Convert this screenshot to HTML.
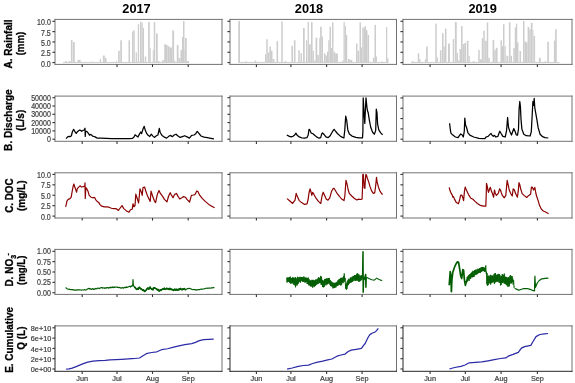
<!DOCTYPE html>
<html><head><meta charset="utf-8"><style>
html,body{margin:0;padding:0;background:#fff;overflow:hidden;}
svg{display:block;will-change:transform;}
text{font-family:"Liberation Sans",sans-serif;}
.tl{font-size:8.6px;fill:#404040;stroke:#404040;stroke-width:0.22px;}
.ti{font-size:13.6px;font-weight:bold;fill:#000;}
.yt{font-size:11.2px;font-weight:bold;fill:#000;stroke:#000;stroke-width:0.3px;}
</style></head><body>
<svg width="575" height="383" viewBox="0 0 575 383">
<line x1="63.1" y1="62.4" x2="189" y2="62.4" stroke="#cdcdcd" stroke-width="1.0"/>
<line x1="238.25" y1="62.4" x2="388.5" y2="62.4" stroke="#cdcdcd" stroke-width="1.0"/>
<line x1="411" y1="62.4" x2="559.5" y2="62.4" stroke="#cdcdcd" stroke-width="1.0"/>
<rect x="65.00" y="61.30" width="2.00" height="1.30" fill="#cdcdcd"/>
<rect x="68.70" y="61.00" width="1.30" height="1.60" fill="#cdcdcd"/>
<rect x="70.90" y="40.10" width="1.60" height="22.50" fill="#cdcdcd"/>
<rect x="72.90" y="42.00" width="1.85" height="20.60" fill="#cdcdcd"/>
<rect x="77.50" y="59.90" width="3.10" height="2.70" fill="#cdcdcd"/>
<rect x="91.90" y="61.20" width="0.60" height="1.40" fill="#cdcdcd"/>
<rect x="99.75" y="59.00" width="1.25" height="3.60" fill="#cdcdcd"/>
<rect x="102.90" y="55.50" width="1.85" height="7.10" fill="#cdcdcd"/>
<rect x="104.75" y="57.75" width="1.75" height="4.85" fill="#cdcdcd"/>
<rect x="116.00" y="60.75" width="0.90" height="1.85" fill="#cdcdcd"/>
<rect x="118.10" y="50.75" width="1.65" height="11.85" fill="#cdcdcd"/>
<rect x="120.25" y="40.25" width="1.65" height="22.35" fill="#cdcdcd"/>
<rect x="128.50" y="40.25" width="1.50" height="22.35" fill="#cdcdcd"/>
<rect x="132.00" y="31.50" width="1.50" height="31.10" fill="#cdcdcd"/>
<rect x="133.50" y="30.10" width="1.25" height="32.50" fill="#cdcdcd"/>
<rect x="135.60" y="52.40" width="1.30" height="10.20" fill="#cdcdcd"/>
<rect x="137.75" y="24.25" width="1.35" height="38.35" fill="#cdcdcd"/>
<rect x="140.00" y="21.75" width="1.50" height="40.85" fill="#cdcdcd"/>
<rect x="141.50" y="22.40" width="1.25" height="40.20" fill="#cdcdcd"/>
<rect x="142.75" y="28.00" width="1.25" height="34.60" fill="#cdcdcd"/>
<rect x="144.75" y="56.50" width="1.50" height="6.10" fill="#cdcdcd"/>
<rect x="148.10" y="22.10" width="1.65" height="40.50" fill="#cdcdcd"/>
<rect x="149.75" y="47.75" width="1.00" height="14.85" fill="#cdcdcd"/>
<rect x="152.75" y="49.90" width="1.00" height="12.70" fill="#cdcdcd"/>
<rect x="153.75" y="22.10" width="1.50" height="40.50" fill="#cdcdcd"/>
<rect x="156.00" y="33.40" width="1.75" height="29.20" fill="#cdcdcd"/>
<rect x="158.10" y="61.00" width="1.30" height="1.60" fill="#cdcdcd"/>
<rect x="162.25" y="59.90" width="1.50" height="2.70" fill="#cdcdcd"/>
<rect x="164.25" y="44.25" width="1.75" height="18.35" fill="#cdcdcd"/>
<rect x="166.00" y="44.90" width="1.60" height="17.70" fill="#cdcdcd"/>
<rect x="167.60" y="46.10" width="1.65" height="16.50" fill="#cdcdcd"/>
<rect x="169.25" y="47.40" width="2.75" height="15.20" fill="#cdcdcd"/>
<rect x="172.25" y="30.50" width="1.85" height="32.10" fill="#cdcdcd"/>
<rect x="174.10" y="60.50" width="1.00" height="2.10" fill="#cdcdcd"/>
<rect x="176.75" y="44.90" width="1.75" height="17.70" fill="#cdcdcd"/>
<rect x="178.50" y="58.00" width="2.00" height="4.60" fill="#cdcdcd"/>
<rect x="180.50" y="49.90" width="1.50" height="12.70" fill="#cdcdcd"/>
<rect x="182.00" y="37.00" width="1.00" height="25.60" fill="#cdcdcd"/>
<rect x="183.00" y="21.10" width="1.50" height="41.50" fill="#cdcdcd"/>
<rect x="184.50" y="49.25" width="1.00" height="13.35" fill="#cdcdcd"/>
<rect x="185.00" y="38.00" width="1.75" height="24.60" fill="#cdcdcd"/>
<rect x="186.75" y="61.00" width="2.25" height="1.60" fill="#cdcdcd"/>
<rect x="238.25" y="21.10" width="1.75" height="41.50" fill="#cdcdcd"/>
<rect x="245.60" y="61.20" width="1.30" height="1.40" fill="#cdcdcd"/>
<rect x="254.75" y="60.50" width="1.50" height="2.10" fill="#cdcdcd"/>
<rect x="265.00" y="54.25" width="1.25" height="8.35" fill="#cdcdcd"/>
<rect x="266.25" y="39.25" width="1.50" height="23.35" fill="#cdcdcd"/>
<rect x="267.75" y="52.40" width="1.65" height="10.20" fill="#cdcdcd"/>
<rect x="269.40" y="46.50" width="1.60" height="16.10" fill="#cdcdcd"/>
<rect x="271.00" y="50.75" width="1.50" height="11.85" fill="#cdcdcd"/>
<rect x="272.50" y="59.00" width="1.90" height="3.60" fill="#cdcdcd"/>
<rect x="276.50" y="41.10" width="1.60" height="21.50" fill="#cdcdcd"/>
<rect x="281.25" y="21.50" width="1.50" height="41.10" fill="#cdcdcd"/>
<rect x="284.75" y="61.00" width="1.25" height="1.60" fill="#cdcdcd"/>
<rect x="291.40" y="45.75" width="1.60" height="16.85" fill="#cdcdcd"/>
<rect x="293.90" y="40.25" width="1.60" height="22.35" fill="#cdcdcd"/>
<rect x="298.25" y="50.25" width="1.50" height="12.35" fill="#cdcdcd"/>
<rect x="300.50" y="53.25" width="1.50" height="9.35" fill="#cdcdcd"/>
<rect x="303.00" y="28.00" width="1.75" height="34.60" fill="#cdcdcd"/>
<rect x="306.00" y="40.25" width="1.25" height="22.35" fill="#cdcdcd"/>
<rect x="307.60" y="21.75" width="1.30" height="40.85" fill="#cdcdcd"/>
<rect x="308.90" y="44.25" width="1.85" height="18.35" fill="#cdcdcd"/>
<rect x="311.00" y="22.10" width="1.60" height="40.50" fill="#cdcdcd"/>
<rect x="312.60" y="50.75" width="1.30" height="11.85" fill="#cdcdcd"/>
<rect x="314.25" y="60.50" width="1.25" height="2.10" fill="#cdcdcd"/>
<rect x="315.50" y="37.75" width="1.75" height="24.85" fill="#cdcdcd"/>
<rect x="317.25" y="54.90" width="1.65" height="7.70" fill="#cdcdcd"/>
<rect x="319.25" y="37.75" width="1.50" height="24.85" fill="#cdcdcd"/>
<rect x="320.10" y="26.75" width="1.65" height="35.85" fill="#cdcdcd"/>
<rect x="321.75" y="36.50" width="1.25" height="26.10" fill="#cdcdcd"/>
<rect x="323.90" y="53.40" width="1.60" height="9.20" fill="#cdcdcd"/>
<rect x="325.50" y="55.50" width="1.50" height="7.10" fill="#cdcdcd"/>
<rect x="327.00" y="51.75" width="1.50" height="10.85" fill="#cdcdcd"/>
<rect x="328.25" y="40.25" width="1.25" height="22.35" fill="#cdcdcd"/>
<rect x="329.50" y="26.75" width="1.50" height="35.85" fill="#cdcdcd"/>
<rect x="331.00" y="48.00" width="1.00" height="14.60" fill="#cdcdcd"/>
<rect x="332.00" y="22.40" width="1.50" height="40.20" fill="#cdcdcd"/>
<rect x="333.50" y="51.75" width="1.60" height="10.85" fill="#cdcdcd"/>
<rect x="335.10" y="53.40" width="1.90" height="9.20" fill="#cdcdcd"/>
<rect x="337.00" y="53.60" width="0.90" height="9.00" fill="#cdcdcd"/>
<rect x="342.25" y="60.50" width="1.25" height="2.10" fill="#cdcdcd"/>
<rect x="343.50" y="21.75" width="1.25" height="40.85" fill="#cdcdcd"/>
<rect x="344.75" y="26.10" width="1.25" height="36.50" fill="#cdcdcd"/>
<rect x="346.00" y="34.90" width="1.25" height="27.70" fill="#cdcdcd"/>
<rect x="347.90" y="59.00" width="1.85" height="3.60" fill="#cdcdcd"/>
<rect x="349.75" y="59.90" width="2.50" height="2.70" fill="#cdcdcd"/>
<rect x="356.00" y="43.60" width="1.50" height="19.00" fill="#cdcdcd"/>
<rect x="357.50" y="50.75" width="1.60" height="11.85" fill="#cdcdcd"/>
<rect x="359.50" y="22.40" width="1.50" height="40.20" fill="#cdcdcd"/>
<rect x="361.00" y="47.40" width="1.25" height="15.20" fill="#cdcdcd"/>
<rect x="362.25" y="27.40" width="1.50" height="35.20" fill="#cdcdcd"/>
<rect x="363.75" y="28.25" width="1.25" height="34.35" fill="#cdcdcd"/>
<rect x="364.50" y="26.10" width="1.50" height="36.50" fill="#cdcdcd"/>
<rect x="366.00" y="30.25" width="1.50" height="32.35" fill="#cdcdcd"/>
<rect x="367.50" y="34.90" width="1.60" height="27.70" fill="#cdcdcd"/>
<rect x="372.90" y="57.75" width="1.60" height="4.85" fill="#cdcdcd"/>
<rect x="374.50" y="24.90" width="1.50" height="37.70" fill="#cdcdcd"/>
<rect x="376.00" y="56.50" width="1.00" height="6.10" fill="#cdcdcd"/>
<rect x="381.60" y="61.20" width="1.30" height="1.40" fill="#cdcdcd"/>
<rect x="386.00" y="27.00" width="1.25" height="35.60" fill="#cdcdcd"/>
<rect x="387.25" y="58.25" width="1.25" height="4.35" fill="#cdcdcd"/>
<rect x="411.75" y="61.30" width="1.85" height="1.30" fill="#cdcdcd"/>
<rect x="417.75" y="53.25" width="1.50" height="9.35" fill="#cdcdcd"/>
<rect x="419.25" y="59.25" width="1.25" height="3.35" fill="#cdcdcd"/>
<rect x="424.90" y="59.25" width="1.20" height="3.35" fill="#cdcdcd"/>
<rect x="426.10" y="46.50" width="1.65" height="16.10" fill="#cdcdcd"/>
<rect x="435.25" y="23.60" width="1.50" height="39.00" fill="#cdcdcd"/>
<rect x="436.75" y="57.40" width="1.25" height="5.20" fill="#cdcdcd"/>
<rect x="439.90" y="50.25" width="1.60" height="12.35" fill="#cdcdcd"/>
<rect x="442.00" y="33.25" width="1.60" height="29.35" fill="#cdcdcd"/>
<rect x="443.60" y="46.75" width="1.30" height="15.85" fill="#cdcdcd"/>
<rect x="444.90" y="28.60" width="1.60" height="34.00" fill="#cdcdcd"/>
<rect x="448.00" y="43.60" width="1.90" height="19.00" fill="#cdcdcd"/>
<rect x="452.75" y="39.00" width="1.50" height="23.60" fill="#cdcdcd"/>
<rect x="454.90" y="22.00" width="1.85" height="40.60" fill="#cdcdcd"/>
<rect x="456.75" y="53.00" width="1.25" height="9.60" fill="#cdcdcd"/>
<rect x="458.00" y="60.50" width="1.50" height="2.10" fill="#cdcdcd"/>
<rect x="459.50" y="49.00" width="1.50" height="13.60" fill="#cdcdcd"/>
<rect x="461.00" y="26.10" width="1.60" height="36.50" fill="#cdcdcd"/>
<rect x="462.60" y="44.00" width="1.65" height="18.60" fill="#cdcdcd"/>
<rect x="464.25" y="43.00" width="1.75" height="19.60" fill="#cdcdcd"/>
<rect x="466.75" y="40.90" width="1.75" height="21.70" fill="#cdcdcd"/>
<rect x="468.50" y="55.75" width="1.25" height="6.85" fill="#cdcdcd"/>
<rect x="472.60" y="61.20" width="1.90" height="1.40" fill="#cdcdcd"/>
<rect x="478.25" y="49.90" width="1.50" height="12.70" fill="#cdcdcd"/>
<rect x="479.75" y="59.25" width="2.00" height="3.35" fill="#cdcdcd"/>
<rect x="481.75" y="38.25" width="1.50" height="24.35" fill="#cdcdcd"/>
<rect x="483.25" y="30.75" width="1.50" height="31.85" fill="#cdcdcd"/>
<rect x="485.10" y="40.75" width="1.65" height="21.85" fill="#cdcdcd"/>
<rect x="486.75" y="22.40" width="1.50" height="40.20" fill="#cdcdcd"/>
<rect x="488.25" y="57.75" width="1.50" height="4.85" fill="#cdcdcd"/>
<rect x="492.60" y="39.90" width="1.65" height="22.70" fill="#cdcdcd"/>
<rect x="494.25" y="49.90" width="1.50" height="12.70" fill="#cdcdcd"/>
<rect x="495.75" y="47.75" width="1.85" height="14.85" fill="#cdcdcd"/>
<rect x="500.50" y="40.25" width="1.50" height="22.35" fill="#cdcdcd"/>
<rect x="502.00" y="46.10" width="1.25" height="16.50" fill="#cdcdcd"/>
<rect x="503.00" y="24.25" width="1.50" height="38.35" fill="#cdcdcd"/>
<rect x="504.50" y="46.10" width="1.25" height="16.50" fill="#cdcdcd"/>
<rect x="506.40" y="55.75" width="1.85" height="6.85" fill="#cdcdcd"/>
<rect x="508.90" y="22.40" width="1.60" height="40.20" fill="#cdcdcd"/>
<rect x="510.50" y="55.75" width="1.50" height="6.85" fill="#cdcdcd"/>
<rect x="513.25" y="48.00" width="1.50" height="14.60" fill="#cdcdcd"/>
<rect x="514.75" y="27.40" width="1.25" height="35.20" fill="#cdcdcd"/>
<rect x="516.00" y="23.60" width="1.25" height="39.00" fill="#cdcdcd"/>
<rect x="517.00" y="42.40" width="1.50" height="20.20" fill="#cdcdcd"/>
<rect x="519.50" y="51.10" width="1.50" height="11.50" fill="#cdcdcd"/>
<rect x="523.00" y="21.10" width="1.50" height="41.50" fill="#cdcdcd"/>
<rect x="524.50" y="41.50" width="1.50" height="21.10" fill="#cdcdcd"/>
<rect x="526.00" y="42.40" width="1.60" height="20.20" fill="#cdcdcd"/>
<rect x="527.60" y="27.00" width="1.65" height="35.60" fill="#cdcdcd"/>
<rect x="529.25" y="29.25" width="1.50" height="33.35" fill="#cdcdcd"/>
<rect x="530.75" y="22.75" width="1.85" height="39.85" fill="#cdcdcd"/>
<rect x="532.60" y="30.00" width="0.90" height="32.60" fill="#cdcdcd"/>
<rect x="533.50" y="36.10" width="1.60" height="26.50" fill="#cdcdcd"/>
<rect x="538.90" y="57.75" width="1.85" height="4.85" fill="#cdcdcd"/>
<rect x="544.75" y="61.20" width="1.25" height="1.40" fill="#cdcdcd"/>
<rect x="547.25" y="41.75" width="1.65" height="20.85" fill="#cdcdcd"/>
<rect x="553.90" y="40.50" width="1.60" height="22.10" fill="#cdcdcd"/>
<rect x="555.10" y="29.25" width="1.65" height="33.35" fill="#cdcdcd"/>
<polyline points="66.10,138.60 67.60,136.90 68.90,136.40 70.10,136.70 71.40,135.75 72.30,132.00 73.60,129.40 74.50,130.75 75.40,132.60 76.40,133.40 77.30,131.70 78.60,130.75 79.80,130.00 80.75,130.60 81.70,131.25 82.90,130.40 84.20,130.00 85.00,128.25 85.25,136.40 85.60,131.40 86.70,131.40 87.60,132.30 88.60,133.60 89.50,135.10 90.75,134.50 91.70,135.10 92.60,136.10 93.90,136.50 95.10,136.90 96.70,137.90 97.90,138.10 100.65,138.20 106.30,138.40 112.00,138.70 117.60,138.70 123.30,138.50 128.90,138.70 132.30,138.50 134.00,137.00 135.10,134.80 136.60,135.90 138.00,137.00 139.65,133.65 140.80,132.00 141.60,133.65 143.00,129.10 144.20,126.30 145.30,130.30 146.80,133.65 148.10,135.35 149.80,136.50 151.30,134.20 152.65,135.90 154.35,137.40 156.40,135.70 157.90,135.00 158.50,132.50 159.30,128.40 160.20,132.50 162.00,135.40 164.30,137.10 166.65,138.10 168.40,136.60 170.15,135.40 172.50,136.60 174.20,135.00 176.00,134.20 177.70,135.75 180.10,137.40 182.40,136.60 184.70,135.75 187.05,136.90 189.40,138.10 191.70,135.40 194.00,135.00 195.80,133.65 197.20,131.30 198.70,133.10 201.00,136.00 204.00,137.10 207.40,137.70 210.90,138.30 213.90,138.90" fill="none" stroke="#000" stroke-width="1.25" stroke-linejoin="round"/>
<polyline points="286.80,135.05 288.90,136.10 291.00,136.90 293.00,136.30 294.60,135.05 295.90,133.20 297.20,135.30 299.30,136.90 301.90,138.00 304.50,138.20 306.90,137.70 308.20,135.05 309.00,129.30 309.75,129.80 310.50,131.40 311.30,133.20 312.60,133.50 314.40,135.05 316.50,136.90 319.10,138.20 320.70,137.70 321.75,133.80 322.60,133.00 323.80,134.20 325.90,136.90 328.00,137.70 329.90,136.10 331.70,133.00 333.20,130.40 334.10,129.30 335.30,130.90 337.40,133.50 340.90,136.60 343.90,138.00 344.80,129.90 345.70,116.15 346.75,120.70 347.80,129.90 349.40,134.00 352.00,136.10 355.90,137.40 358.80,137.90 362.50,137.90 362.90,131.60 363.20,97.90 364.00,112.00 364.80,123.40 365.30,112.00 366.00,97.90 366.90,107.00 367.50,110.80 368.20,112.80 369.40,120.30 370.70,127.25 372.60,132.30 374.40,134.20 375.70,130.40 376.30,109.10 377.00,112.80 377.60,124.10 378.80,129.80 380.70,132.90 382.60,134.80" fill="none" stroke="#000" stroke-width="1.25" stroke-linejoin="round"/>
<polyline points="449.60,123.30 450.20,128.55 450.90,133.10 452.80,135.10 455.40,137.00 458.05,137.70 459.40,135.70 460.70,134.00 462.00,134.80 463.30,137.00 464.30,131.20 464.80,118.10 465.60,125.30 466.50,127.25 467.85,132.50 469.80,135.10 473.70,137.00 478.90,138.30 484.80,138.70 486.10,137.00 488.10,136.40 490.00,134.40 491.00,133.50 492.00,135.10 493.30,136.40 494.35,135.30 495.90,137.00 497.90,136.40 498.80,133.80 499.80,131.20 501.30,133.80 502.90,136.40 505.20,137.00 506.50,131.20 507.60,117.50 508.50,127.25 509.80,131.20 511.50,135.10 512.80,131.20 513.80,128.55 515.00,131.20 516.25,134.80 517.50,135.20 518.50,129.10 519.10,109.10 519.80,101.50 520.40,106.50 521.00,119.10 521.90,129.10 523.80,134.20 526.30,135.70 530.10,136.00 531.30,131.60 532.30,112.80 532.90,101.50 533.60,105.30 534.20,98.40 534.80,107.80 535.70,112.80 537.00,120.30 538.20,127.90 540.10,134.20 542.60,136.70 545.00,137.70 548.30,138.00" fill="none" stroke="#000" stroke-width="1.25" stroke-linejoin="round"/>
<polyline points="65.60,206.80 66.40,203.80 67.00,200.80 68.20,199.40 70.00,198.65 71.20,197.20 72.00,192.40 73.00,187.00 73.85,184.00 74.80,187.00 75.65,189.40 76.60,192.20 77.20,188.80 78.40,187.40 80.00,185.80 81.40,187.00 83.20,186.60 84.80,186.20 85.00,182.80 85.25,198.40 85.85,187.60 86.80,188.80 88.00,191.20 89.20,195.40 91.00,197.20 92.80,197.80 94.60,197.45 95.80,199.85 97.60,201.80 98.80,202.60 100.00,204.65 101.80,206.20 104.20,206.80 106.60,206.80 109.00,207.20 111.40,208.25 113.80,208.60 116.00,208.60 118.40,210.40 120.20,208.00 122.00,205.60 123.80,208.60 126.20,210.65 129.00,212.20 130.40,209.80 132.20,209.20 133.00,203.80 134.00,206.80 135.00,205.60 135.80,194.20 137.00,197.80 138.60,203.00 140.00,188.80 141.45,192.40 142.20,195.40 143.00,187.60 144.60,187.00 146.00,191.80 147.80,196.60 150.20,201.40 151.05,191.20 152.60,196.00 154.40,200.80 155.60,202.60 157.40,194.20 159.00,190.60 160.40,193.40 162.80,196.60 164.40,199.40 167.00,201.80 168.60,196.00 170.20,192.65 171.60,195.40 173.00,197.80 174.60,194.60 176.40,193.40 178.20,196.60 179.80,199.00 181.80,197.80 183.60,196.60 185.40,197.20 187.20,199.60 189.60,202.00 191.40,195.40 193.45,195.00 195.00,194.60 196.80,191.00 198.00,191.80 199.80,195.40 202.20,198.40 205.20,201.40 208.80,204.40 211.80,206.20 214.60,207.80" fill="none" stroke="#8b0000" stroke-width="1.2" stroke-linejoin="round"/>
<polyline points="287.00,198.65 289.60,200.80 292.60,203.45 295.00,200.20 296.20,193.40 297.40,196.60 299.20,200.60 301.60,202.60 304.60,204.40 307.00,203.80 308.20,199.00 309.00,193.00 310.00,188.80 311.00,191.80 311.80,195.40 312.65,192.40 313.85,194.20 316.00,198.20 318.40,201.40 320.80,203.45 322.00,196.00 323.20,192.20 324.65,195.40 326.20,199.00 328.00,200.20 329.80,197.80 331.40,191.80 333.00,188.80 334.00,188.20 335.80,191.20 337.60,194.20 339.20,196.00 341.60,199.00 344.00,200.60 344.85,196.00 345.60,185.20 346.00,180.40 347.00,184.00 348.20,190.00 349.40,193.60 351.80,196.00 354.20,198.20 356.80,200.00 358.70,199.10 360.50,199.50 362.10,199.10 362.50,188.30 362.80,174.60 363.20,174.10 363.80,181.00 364.15,187.80 364.90,188.30 365.25,181.90 365.80,174.60 366.40,175.00 367.35,178.20 368.70,181.90 370.10,186.90 371.50,190.60 373.30,193.30 374.70,192.90 375.60,186.50 376.50,177.30 377.10,181.90 378.30,186.50 379.70,190.60 381.35,193.30 382.60,194.50" fill="none" stroke="#8b0000" stroke-width="1.2" stroke-linejoin="round"/>
<polyline points="449.20,187.40 450.00,190.60 451.25,193.40 452.20,194.80 452.80,197.20 453.40,196.60 454.60,199.40 456.40,202.60 458.40,203.80 459.40,200.80 460.60,195.40 461.80,195.00 462.80,197.80 463.60,200.60 464.45,191.20 465.20,187.00 466.60,190.60 469.00,195.40 470.80,198.20 472.60,199.00 475.00,201.40 477.40,203.45 480.40,205.40 483.40,206.20 485.80,206.20 486.20,196.00 486.50,183.40 487.25,186.20 488.00,190.60 488.50,192.40 489.65,188.80 490.40,187.40 491.20,190.60 492.40,193.40 493.60,197.20 494.50,190.00 495.20,193.00 496.40,195.40 497.60,194.20 498.40,193.00 499.60,188.80 500.50,190.00 501.40,193.00 502.40,195.40 504.20,197.80 505.80,195.40 506.60,186.40 507.20,180.40 508.20,185.20 509.40,190.60 510.80,193.60 512.25,196.00 513.20,188.80 514.40,190.00 515.60,193.60 517.40,197.20 518.25,191.20 519.00,182.60 519.80,184.60 520.65,188.80 522.20,193.60 524.00,195.40 526.65,197.45 528.80,195.40 530.60,194.20 531.45,187.00 532.40,187.40 533.60,190.00 534.80,187.40 535.80,193.00 536.60,196.00 537.80,199.60 539.60,205.60 541.40,209.20 543.20,211.00 545.60,212.00 548.60,213.80" fill="none" stroke="#8b0000" stroke-width="1.2" stroke-linejoin="round"/>
<polyline points="65.65,287.48 66.30,288.03 66.95,288.71 67.60,288.98 68.13,289.10 68.66,289.24 69.19,289.14 69.71,289.41 70.24,289.56 70.77,289.75 71.30,289.50 71.84,289.64 72.37,289.57 72.91,289.96 73.45,289.94 73.98,289.65 74.52,290.16 75.05,290.19 75.59,290.07 76.13,290.09 76.66,289.89 77.20,289.86 77.73,290.10 78.26,289.84 78.79,289.89 79.31,289.90 79.84,289.78 80.37,289.97 80.90,289.95 81.43,290.13 81.96,289.95 82.49,289.99 83.01,289.90 83.54,289.97 84.07,289.83 84.60,289.65 85.15,290.15 85.70,290.01 86.25,289.72 86.80,289.46 87.35,288.96 87.90,288.74 88.45,288.65 89.00,288.31 89.50,288.98 90.00,288.70 90.50,289.15 91.00,288.78 91.50,289.33 92.00,289.28 92.50,288.56 93.00,288.79 93.50,289.47 94.05,288.99 94.60,289.36 95.15,288.75 95.70,288.37 96.25,288.78 96.80,288.83 97.35,288.28 97.90,288.03 98.45,288.19 99.00,288.69 99.55,288.44 100.10,287.81 100.65,287.86 101.20,287.67 101.75,287.57 102.30,288.17 102.80,287.66 103.30,288.05 103.80,288.00 104.30,287.82 104.80,288.36 105.30,287.87 105.85,288.24 106.40,287.68 106.95,287.87 107.50,287.59 108.05,287.56 108.60,288.10 109.15,287.86 109.70,287.32 110.20,287.81 110.70,287.17 111.20,287.30 111.70,287.69 112.20,287.46 112.70,286.94 113.20,287.71 113.70,286.98 114.20,286.98 114.75,287.48 115.30,287.12 115.85,287.13 116.40,286.97 116.95,287.02 117.50,287.50 118.05,287.23 118.60,287.59 119.15,287.43 119.70,287.56 120.25,288.06 120.80,287.69 121.35,287.82 121.90,288.13 122.45,287.56 123.00,287.59 123.50,288.16 124.00,287.96 124.50,287.34 125.00,287.18 125.50,287.56 126.00,287.63 126.50,286.85 127.00,287.42 127.50,287.24 128.08,286.93 128.66,286.71 129.24,286.36 129.82,286.24 130.40,287.02 130.97,286.14 131.55,286.33 132.12,285.71 132.70,285.99 133.00,279.50 133.40,285.70 133.95,285.93 134.50,287.55 135.05,287.26 135.60,288.27 136.17,288.86 136.73,289.40 137.30,289.08 137.85,288.32 138.40,289.12 138.95,287.75 139.50,287.23 140.07,288.13 140.65,288.91 141.23,288.80 141.80,289.48 142.30,289.91 142.80,290.35 143.30,289.76 143.80,290.25 144.30,291.21 144.80,291.47 145.38,290.58 145.95,290.26 146.53,289.71 147.10,288.62 147.60,288.21 148.10,287.93 148.60,289.11 149.10,288.52 149.60,288.69 150.10,286.93 150.68,288.37 151.25,288.57 151.82,289.42 152.40,289.21 152.97,289.77 153.55,287.77 154.12,288.00 154.70,287.78 155.25,288.42 155.80,288.53 156.35,288.85 156.90,289.37 157.47,289.94 158.05,289.41 158.62,290.32 159.20,291.04 159.70,290.79 160.20,289.87 160.70,290.26 161.20,290.18 161.70,289.52 162.20,289.40 162.71,288.92 163.22,289.15 163.73,289.11 164.24,288.17 164.76,288.98 165.27,289.46 165.78,289.19 166.29,288.85 166.80,288.22 167.30,288.90 167.80,288.77 168.30,288.67 168.80,289.43 169.30,288.35 169.80,289.53 170.30,288.50 170.80,289.54 171.30,289.47 171.80,289.12 172.30,289.93 172.80,289.66 173.30,289.91 173.80,290.45 174.30,289.44 174.80,289.11 175.30,289.63 175.80,290.29 176.31,289.40 176.82,289.23 177.33,290.28 177.84,289.77 178.36,289.30 178.87,289.89 179.38,288.87 179.89,289.29 180.40,288.42 180.90,288.82 181.40,289.46 181.90,289.66 182.40,289.64 182.90,288.88 183.40,289.23 183.90,288.84 184.40,288.58 184.90,289.19 185.41,289.65 185.92,289.58 186.43,289.02 186.94,289.02 187.46,288.67 187.97,288.53 188.48,288.56 188.99,288.40 189.50,288.29 190.00,288.55 190.50,288.82 191.00,288.95 191.50,289.06 192.00,289.45 192.50,289.69 193.00,289.54 193.50,289.44 194.00,289.48 194.50,289.87 195.00,289.59 195.50,289.92 196.00,289.92 196.50,289.87 197.00,290.12 197.51,289.72 198.02,289.68 198.53,289.72 199.04,289.45 199.56,289.69 200.07,289.36 200.58,289.23 201.09,289.11 201.60,289.25 202.10,289.09 202.60,289.07 203.10,289.00 203.60,288.97 204.10,288.94 204.60,288.74 205.10,288.46 205.60,288.48 206.10,288.27 206.60,288.16 207.10,288.30 207.60,288.35 208.10,288.09 208.60,288.09 209.10,288.07 209.60,288.17 210.10,288.05 210.60,288.05 211.14,288.02 211.69,287.79 212.23,287.86 212.77,287.82 213.31,287.41 213.86,287.66 214.40,287.49" fill="none" stroke="#005c00" stroke-width="1.15" stroke-linejoin="round"/>
<polyline points="134.50,287.55 135.05,287.26 135.60,288.27 136.17,288.86 136.73,289.40 137.30,289.08 137.85,288.32 138.40,289.12 138.95,287.75 139.50,287.23 140.07,288.13 140.65,288.91 141.23,288.80 141.80,289.48 142.30,289.91 142.80,290.35 143.30,289.76 143.80,290.25 144.30,291.21 144.80,291.47 145.38,290.58 145.95,290.26 146.53,289.71 147.10,288.62 147.60,288.21 148.10,287.93 148.60,289.11 149.10,288.52 149.60,288.69 150.10,286.93 150.68,288.37 151.25,288.57 151.82,289.42 152.40,289.21 152.97,289.77 153.55,287.77 154.12,288.00 154.70,287.78 155.25,288.42 155.80,288.53 156.35,288.85 156.90,289.37 157.47,289.94 158.05,289.41 158.62,290.32 159.20,291.04 159.70,290.79 160.20,289.87 160.70,290.26 161.20,290.18 161.70,289.52 162.20,289.40 162.71,288.92 163.22,289.15 163.73,289.11 164.24,288.17 164.76,288.98 165.27,289.46 165.78,289.19 166.29,288.85 166.80,288.22 167.30,288.90 167.80,288.77 168.30,288.67 168.80,289.43 169.30,288.35 169.80,289.53 170.30,288.50 170.80,289.54 171.30,289.47 171.80,289.12 172.30,289.93 172.80,289.66 173.30,289.91 173.80,290.45 174.30,289.44 174.80,289.11 175.30,289.63 175.80,290.29 176.31,289.40 176.82,289.23 177.33,290.28 177.84,289.77 178.36,289.30 178.87,289.89 179.38,288.87 179.89,289.29 180.40,288.42 180.90,288.82 181.40,289.46 181.90,289.66 182.40,289.64 182.90,288.88 183.40,289.23 183.90,288.84 184.40,288.58 184.90,289.19 185.41,289.65 185.92,289.58" fill="none" stroke="#005c00" stroke-width="1.5" stroke-linejoin="round"/>
<polyline points="286.75,277.74 287.04,282.56 287.31,277.41 287.65,281.81 288.02,278.10 288.38,281.92 288.66,277.49 289.11,282.10 289.42,277.12 289.90,282.96 290.25,276.58 290.52,283.60 290.84,278.00 291.12,282.87 291.57,278.03 291.97,283.68 292.31,277.49 292.58,282.86 292.88,277.31 293.23,283.49 293.63,277.78 293.96,284.96 294.38,278.17 294.77,285.32 295.24,277.03 295.56,287.31 295.84,277.74 296.28,285.27 296.66,278.60 297.07,285.47 297.47,276.81 297.79,284.13 298.19,277.43 298.56,283.30 299.04,277.39 299.46,281.81 299.88,276.85 300.38,282.67 300.70,276.97 301.12,281.20 301.49,277.04 301.77,281.04 302.21,276.99 302.52,281.56 302.99,277.29 303.35,281.95 303.82,276.44 304.29,281.72 304.64,277.35 305.11,282.83 305.40,277.83 305.71,281.91 306.08,277.46 306.39,281.99 306.75,277.98 307.14,283.93 307.56,278.01 307.97,284.09 308.23,277.59 308.68,285.29 309.13,279.21 309.48,285.01 309.88,280.50 310.15,286.12 310.44,280.44 310.70,286.43 310.99,281.09 311.33,286.32 311.80,279.82 312.09,286.60 312.43,280.18 312.71,287.69 313.20,279.82 313.58,285.85 313.85,280.16 314.17,287.06 314.46,280.83 314.95,286.18 315.23,280.00 315.49,285.96 315.98,279.21 316.41,284.68 316.75,279.70 317.19,284.34 317.64,278.69 317.94,284.02 318.44,277.20 318.89,283.43 319.33,277.77 319.70,282.98 319.96,277.93 320.28,283.00 320.71,275.88 321.07,284.65 321.56,276.80 321.91,284.89 322.21,279.85 322.51,286.97 322.99,280.14 323.36,287.38 323.81,280.90 324.22,287.01 324.67,278.94 325.04,284.85 325.49,279.03 325.94,285.41 326.28,278.39 326.77,284.37 327.06,278.62 327.35,284.27 327.80,278.34 328.26,283.74 328.67,278.03 329.06,283.02 329.31,277.98 329.73,284.52 330.21,280.03 330.68,286.20 330.98,281.11 331.30,286.05 331.70,281.83 332.06,286.77 332.53,282.51 332.90,288.39 333.37,282.77 333.85,288.11 334.24,282.76 334.49,287.92 334.79,283.63 335.24,287.43 335.60,282.74 335.99,287.33 336.37,282.30 336.82,286.01 337.21,281.68 337.53,286.04 337.91,280.39 338.35,285.29 338.71,279.52 339.08,284.85 339.51,279.18 339.89,284.90 340.37,278.08 340.84,285.56 341.16,277.76 341.64,284.60 341.93,278.00 342.29,282.58 342.60,277.58 343.02,283.20 343.49,276.28 343.92,282.21 344.21,273.51 344.70,281.31 345.19,277.95 345.56,288.67 346.02,284.11 346.37,289.78 346.71,282.83 347.04,288.72 347.29,281.13 347.65,286.06 347.99,279.88 348.36,284.95 348.86,278.66 349.35,283.59 349.67,278.99 350.11,282.75 350.40,277.61 350.87,282.97 351.19,277.44 351.67,282.08 352.09,276.86 352.36,281.84 352.72,276.43 353.20,281.22 353.65,275.86 354.11,280.13 354.58,275.05 354.91,280.93 355.40,275.20 355.68,280.86 355.99,275.30 356.28,279.83 356.58,274.38 356.91,280.90 357.23,273.39 357.52,279.83 357.78,273.57 358.03,280.81 358.42,274.68 358.79,281.77 359.06,274.57 359.42,281.49 359.88,275.85 360.26,281.16 360.75,275.57 361.21,280.28 361.62,275.34 361.96,279.63 362.24,276.15" fill="none" stroke="#005c00" stroke-width="0.9" stroke-linejoin="round"/>
<polyline points="466.40,279.42 466.69,282.44 467.15,276.97 467.57,281.43 467.88,276.24 468.24,280.28 468.61,275.22 469.10,280.93 469.48,274.40 469.97,279.08 470.31,274.02 470.66,278.79 471.03,272.97 471.41,277.33 471.73,272.50 472.08,276.85 472.33,271.78 472.64,277.37 473.02,270.75 473.44,276.95 473.91,271.01 474.24,276.72 474.53,270.26 474.94,274.77 475.40,269.72 475.80,275.14 476.26,270.35 476.64,274.41 477.09,269.00 477.55,274.07 478.02,268.69 478.45,273.14 478.71,269.11 479.05,272.68 479.51,268.14 479.91,272.87 480.33,267.93 480.58,272.65 481.02,267.65 481.40,271.92 481.67,267.13 481.98,270.85 482.30,266.91 482.60,271.21 483.10,267.05 483.44,270.99 483.86,267.12 484.27,271.56 484.54,268.12 484.85,271.95 485.17,267.97 485.43,271.42 485.75,265.45 486.17,273.55 486.49,271.63 486.86,284.35 487.14,273.22 487.44,285.74 487.92,276.20 488.29,285.12 488.78,275.56 489.09,283.44 489.58,276.43 489.98,283.14 490.36,274.82 490.64,284.60 491.02,275.14 491.44,283.11 491.92,275.91 492.17,282.41 492.55,275.65 492.87,282.54 493.21,275.62 493.67,281.99 494.11,273.88 494.39,284.06 494.81,273.44 495.14,282.47 495.49,273.20 495.88,282.19 496.24,274.89 496.50,281.39 496.96,274.82 497.44,281.43 497.76,274.31 498.06,281.72 498.55,273.89 499.00,282.55 499.48,274.25 499.87,282.98 500.13,275.42 500.49,285.41 500.90,277.27 501.16,285.00 501.45,276.17 501.78,282.83 502.22,274.08 502.53,282.92 502.86,274.67 503.21,282.15 503.50,275.38 503.97,283.36 504.28,273.57 504.78,283.65 505.06,276.53 505.33,283.68 505.61,277.21 505.92,284.47 506.39,276.99 506.75,285.31 507.13,278.36 507.46,285.54 507.78,277.40 508.06,287.04 508.47,277.17 508.77,285.52 509.09,277.65 509.45,286.24 509.91,275.76 510.17,283.21 510.59,275.27 510.96,283.51 511.21,275.94 511.69,283.21 512.16,276.16 512.47,281.95 512.76,278.51 513.18,284.66 513.61,280.27 514.05,287.65 514.44,286.51" fill="none" stroke="#005c00" stroke-width="0.9" stroke-linejoin="round"/>
<polyline points="449.20,285.30 450.20,271.70 450.90,276.00 451.40,291.60 451.90,280.00 452.80,272.20 454.40,267.50 456.00,263.90 457.50,261.80 458.60,262.30 459.60,268.60 460.70,275.90 461.70,278.50 462.80,269.60 463.60,270.20 464.30,279.00 465.40,285.30 466.40,281.10" fill="none" stroke="#005c00" stroke-width="1.7" stroke-linejoin="round"/>
<polyline points="362.60,278.00 363.00,251.70 363.20,292.20 363.60,278.00 364.40,279.20 365.20,276.00 365.70,274.40 365.90,287.30 366.20,278.00 366.90,277.40" fill="none" stroke="#005c00" stroke-width="1.5" stroke-linejoin="round"/>
<polyline points="366.90,277.40 369.40,278.70 371.80,279.70 374.30,280.10 376.70,278.10 378.60,279.30 380.40,280.10 382.20,280.50" fill="none" stroke="#005c00" stroke-width="1.1" stroke-linejoin="round"/>
<polyline points="514.60,288.50 516.50,289.10 518.90,290.30 520.80,289.50 523.20,288.70 526.90,288.50 529.40,289.10 532.40,290.30 534.50,290.90 534.90,276.20 535.50,287.30 537.30,283.00 539.20,280.50 541.60,278.90 545.30,278.40 548.40,278.10" fill="none" stroke="#005c00" stroke-width="1.2" stroke-linejoin="round"/>
<polyline points="66.10,369.10 69.00,368.90 72.20,368.20 77.40,366.10 82.60,363.90 87.80,362.20 93.00,361.10 99.10,360.60 105.20,360.30 110.00,359.80 121.60,359.30 131.90,358.70 135.00,358.50 139.50,358.00 142.60,356.00 146.30,353.70 151.60,352.50 156.90,351.80 161.50,349.70 167.50,348.75 172.80,347.40 178.90,345.90 184.90,344.70 191.70,343.60 195.50,342.40 199.30,340.60 203.80,339.70 209.10,339.40 213.70,339.20" fill="none" stroke="#2b2ba6" stroke-width="1.25" stroke-linejoin="round"/>
<polyline points="287.10,369.20 292.20,368.00 298.30,366.40 303.40,365.50 308.50,365.10 312.60,363.50 316.60,362.30 322.70,361.10 327.80,359.80 331.90,359.00 337.00,356.20 341.00,355.00 345.10,354.10 348.20,351.50 351.20,350.10 356.30,349.30 361.40,348.45 363.40,345.60 365.20,343.50 366.80,340.10 368.30,337.00 369.90,334.60 372.00,333.30 373.80,332.50 375.60,331.70 376.70,330.40 378.30,328.30" fill="none" stroke="#2b2ba6" stroke-width="1.25" stroke-linejoin="round"/>
<polyline points="449.40,369.00 454.60,367.50 460.90,366.30 465.00,365.00 469.20,362.80 475.50,362.30 481.80,361.90 488.00,360.80 494.30,359.60 500.50,358.50 505.80,357.90 508.90,355.80 513.10,354.40 518.30,352.30 521.40,348.10 524.60,346.60 530.80,345.40 532.90,341.80 536.00,336.60 539.80,334.50 544.40,333.90 548.10,333.50" fill="none" stroke="#2b2ba6" stroke-width="1.25" stroke-linejoin="round"/>
<line x1="55.00" y1="19.40" x2="222.00" y2="19.40" stroke="#727272" stroke-width="1.0" stroke-linecap="square"/>
<line x1="222.00" y1="19.40" x2="222.00" y2="64.40" stroke="#727272" stroke-width="1.0" stroke-linecap="square"/>
<line x1="55.00" y1="64.40" x2="222.00" y2="64.40" stroke="#727272" stroke-width="1.0" stroke-linecap="square"/>
<line x1="55.00" y1="19.40" x2="55.00" y2="64.40" stroke="#727272" stroke-width="1.0" stroke-linecap="square"/>
<line x1="52.40" y1="21.30" x2="55.00" y2="21.30" stroke="#333" stroke-width="1.1"/>
<line x1="52.40" y1="31.62" x2="55.00" y2="31.62" stroke="#333" stroke-width="1.1"/>
<line x1="52.40" y1="41.95" x2="55.00" y2="41.95" stroke="#333" stroke-width="1.1"/>
<line x1="52.40" y1="52.27" x2="55.00" y2="52.27" stroke="#333" stroke-width="1.1"/>
<line x1="52.40" y1="62.60" x2="55.00" y2="62.60" stroke="#333" stroke-width="1.1"/>
<line x1="82.20" y1="64.40" x2="82.20" y2="67.00" stroke="#333" stroke-width="1.1"/>
<line x1="117.00" y1="64.40" x2="117.00" y2="67.00" stroke="#333" stroke-width="1.1"/>
<line x1="152.50" y1="64.40" x2="152.50" y2="67.00" stroke="#333" stroke-width="1.1"/>
<line x1="188.20" y1="64.40" x2="188.20" y2="67.00" stroke="#333" stroke-width="1.1"/>
<line x1="230.00" y1="19.40" x2="396.50" y2="19.40" stroke="#727272" stroke-width="1.0" stroke-linecap="square"/>
<line x1="396.50" y1="19.40" x2="396.50" y2="64.40" stroke="#727272" stroke-width="1.0" stroke-linecap="square"/>
<line x1="230.00" y1="64.40" x2="396.50" y2="64.40" stroke="#727272" stroke-width="1.0" stroke-linecap="square"/>
<line x1="230.00" y1="19.40" x2="230.00" y2="64.40" stroke="#727272" stroke-width="1.0" stroke-linecap="square"/>
<line x1="227.40" y1="21.30" x2="230.00" y2="21.30" stroke="#333" stroke-width="1.1"/>
<line x1="227.40" y1="31.62" x2="230.00" y2="31.62" stroke="#333" stroke-width="1.1"/>
<line x1="227.40" y1="41.95" x2="230.00" y2="41.95" stroke="#333" stroke-width="1.1"/>
<line x1="227.40" y1="52.27" x2="230.00" y2="52.27" stroke="#333" stroke-width="1.1"/>
<line x1="227.40" y1="62.60" x2="230.00" y2="62.60" stroke="#333" stroke-width="1.1"/>
<line x1="256.40" y1="64.40" x2="256.40" y2="67.00" stroke="#333" stroke-width="1.1"/>
<line x1="290.90" y1="64.40" x2="290.90" y2="67.00" stroke="#333" stroke-width="1.1"/>
<line x1="326.60" y1="64.40" x2="326.60" y2="67.00" stroke="#333" stroke-width="1.1"/>
<line x1="362.10" y1="64.40" x2="362.10" y2="67.00" stroke="#333" stroke-width="1.1"/>
<line x1="403.00" y1="19.40" x2="572.00" y2="19.40" stroke="#727272" stroke-width="1.0" stroke-linecap="square"/>
<line x1="572.00" y1="19.40" x2="572.00" y2="64.40" stroke="#727272" stroke-width="1.0" stroke-linecap="square"/>
<line x1="403.00" y1="64.40" x2="572.00" y2="64.40" stroke="#727272" stroke-width="1.0" stroke-linecap="square"/>
<line x1="403.00" y1="19.40" x2="403.00" y2="64.40" stroke="#727272" stroke-width="1.0" stroke-linecap="square"/>
<line x1="400.40" y1="21.30" x2="403.00" y2="21.30" stroke="#333" stroke-width="1.1"/>
<line x1="400.40" y1="31.62" x2="403.00" y2="31.62" stroke="#333" stroke-width="1.1"/>
<line x1="400.40" y1="41.95" x2="403.00" y2="41.95" stroke="#333" stroke-width="1.1"/>
<line x1="400.40" y1="52.27" x2="403.00" y2="52.27" stroke="#333" stroke-width="1.1"/>
<line x1="400.40" y1="62.60" x2="403.00" y2="62.60" stroke="#333" stroke-width="1.1"/>
<line x1="430.10" y1="64.40" x2="430.10" y2="67.00" stroke="#333" stroke-width="1.1"/>
<line x1="465.30" y1="64.40" x2="465.30" y2="67.00" stroke="#333" stroke-width="1.1"/>
<line x1="501.10" y1="64.40" x2="501.10" y2="67.00" stroke="#333" stroke-width="1.1"/>
<line x1="537.40" y1="64.40" x2="537.40" y2="67.00" stroke="#333" stroke-width="1.1"/>
<line x1="55.00" y1="96.10" x2="222.00" y2="96.10" stroke="#727272" stroke-width="1.0" stroke-linecap="square"/>
<line x1="222.00" y1="96.10" x2="222.00" y2="141.30" stroke="#727272" stroke-width="1.0" stroke-linecap="square"/>
<line x1="55.00" y1="141.30" x2="222.00" y2="141.30" stroke="#727272" stroke-width="1.0" stroke-linecap="square"/>
<line x1="55.00" y1="96.10" x2="55.00" y2="141.30" stroke="#727272" stroke-width="1.0" stroke-linecap="square"/>
<line x1="52.40" y1="97.70" x2="55.00" y2="97.70" stroke="#333" stroke-width="1.1"/>
<line x1="52.40" y1="106.00" x2="55.00" y2="106.00" stroke="#333" stroke-width="1.1"/>
<line x1="52.40" y1="114.30" x2="55.00" y2="114.30" stroke="#333" stroke-width="1.1"/>
<line x1="52.40" y1="122.60" x2="55.00" y2="122.60" stroke="#333" stroke-width="1.1"/>
<line x1="52.40" y1="130.90" x2="55.00" y2="130.90" stroke="#333" stroke-width="1.1"/>
<line x1="52.40" y1="139.20" x2="55.00" y2="139.20" stroke="#333" stroke-width="1.1"/>
<line x1="82.20" y1="141.30" x2="82.20" y2="143.90" stroke="#333" stroke-width="1.1"/>
<line x1="117.00" y1="141.30" x2="117.00" y2="143.90" stroke="#333" stroke-width="1.1"/>
<line x1="152.50" y1="141.30" x2="152.50" y2="143.90" stroke="#333" stroke-width="1.1"/>
<line x1="188.20" y1="141.30" x2="188.20" y2="143.90" stroke="#333" stroke-width="1.1"/>
<line x1="230.00" y1="96.10" x2="396.50" y2="96.10" stroke="#727272" stroke-width="1.0" stroke-linecap="square"/>
<line x1="396.50" y1="96.10" x2="396.50" y2="141.30" stroke="#727272" stroke-width="1.0" stroke-linecap="square"/>
<line x1="230.00" y1="141.30" x2="396.50" y2="141.30" stroke="#727272" stroke-width="1.0" stroke-linecap="square"/>
<line x1="230.00" y1="96.10" x2="230.00" y2="141.30" stroke="#727272" stroke-width="1.0" stroke-linecap="square"/>
<line x1="227.40" y1="97.70" x2="230.00" y2="97.70" stroke="#333" stroke-width="1.1"/>
<line x1="227.40" y1="106.00" x2="230.00" y2="106.00" stroke="#333" stroke-width="1.1"/>
<line x1="227.40" y1="114.30" x2="230.00" y2="114.30" stroke="#333" stroke-width="1.1"/>
<line x1="227.40" y1="122.60" x2="230.00" y2="122.60" stroke="#333" stroke-width="1.1"/>
<line x1="227.40" y1="130.90" x2="230.00" y2="130.90" stroke="#333" stroke-width="1.1"/>
<line x1="227.40" y1="139.20" x2="230.00" y2="139.20" stroke="#333" stroke-width="1.1"/>
<line x1="256.40" y1="141.30" x2="256.40" y2="143.90" stroke="#333" stroke-width="1.1"/>
<line x1="290.90" y1="141.30" x2="290.90" y2="143.90" stroke="#333" stroke-width="1.1"/>
<line x1="326.60" y1="141.30" x2="326.60" y2="143.90" stroke="#333" stroke-width="1.1"/>
<line x1="362.10" y1="141.30" x2="362.10" y2="143.90" stroke="#333" stroke-width="1.1"/>
<line x1="403.00" y1="96.10" x2="572.00" y2="96.10" stroke="#727272" stroke-width="1.0" stroke-linecap="square"/>
<line x1="572.00" y1="96.10" x2="572.00" y2="141.30" stroke="#727272" stroke-width="1.0" stroke-linecap="square"/>
<line x1="403.00" y1="141.30" x2="572.00" y2="141.30" stroke="#727272" stroke-width="1.0" stroke-linecap="square"/>
<line x1="403.00" y1="96.10" x2="403.00" y2="141.30" stroke="#727272" stroke-width="1.0" stroke-linecap="square"/>
<line x1="400.40" y1="97.90" x2="403.00" y2="97.90" stroke="#333" stroke-width="1.1"/>
<line x1="400.40" y1="108.22" x2="403.00" y2="108.22" stroke="#333" stroke-width="1.1"/>
<line x1="400.40" y1="118.55" x2="403.00" y2="118.55" stroke="#333" stroke-width="1.1"/>
<line x1="400.40" y1="128.88" x2="403.00" y2="128.88" stroke="#333" stroke-width="1.1"/>
<line x1="400.40" y1="139.20" x2="403.00" y2="139.20" stroke="#333" stroke-width="1.1"/>
<line x1="430.10" y1="141.30" x2="430.10" y2="143.90" stroke="#333" stroke-width="1.1"/>
<line x1="465.30" y1="141.30" x2="465.30" y2="143.90" stroke="#333" stroke-width="1.1"/>
<line x1="501.10" y1="141.30" x2="501.10" y2="143.90" stroke="#333" stroke-width="1.1"/>
<line x1="537.40" y1="141.30" x2="537.40" y2="143.90" stroke="#333" stroke-width="1.1"/>
<line x1="55.00" y1="172.80" x2="222.00" y2="172.80" stroke="#727272" stroke-width="1.0" stroke-linecap="square"/>
<line x1="222.00" y1="172.80" x2="222.00" y2="218.00" stroke="#727272" stroke-width="1.0" stroke-linecap="square"/>
<line x1="55.00" y1="218.00" x2="222.00" y2="218.00" stroke="#727272" stroke-width="1.0" stroke-linecap="square"/>
<line x1="55.00" y1="172.80" x2="55.00" y2="218.00" stroke="#727272" stroke-width="1.0" stroke-linecap="square"/>
<line x1="52.40" y1="174.40" x2="55.00" y2="174.40" stroke="#333" stroke-width="1.1"/>
<line x1="52.40" y1="184.82" x2="55.00" y2="184.82" stroke="#333" stroke-width="1.1"/>
<line x1="52.40" y1="195.25" x2="55.00" y2="195.25" stroke="#333" stroke-width="1.1"/>
<line x1="52.40" y1="205.68" x2="55.00" y2="205.68" stroke="#333" stroke-width="1.1"/>
<line x1="52.40" y1="216.10" x2="55.00" y2="216.10" stroke="#333" stroke-width="1.1"/>
<line x1="82.20" y1="218.00" x2="82.20" y2="220.60" stroke="#333" stroke-width="1.1"/>
<line x1="117.00" y1="218.00" x2="117.00" y2="220.60" stroke="#333" stroke-width="1.1"/>
<line x1="152.50" y1="218.00" x2="152.50" y2="220.60" stroke="#333" stroke-width="1.1"/>
<line x1="188.20" y1="218.00" x2="188.20" y2="220.60" stroke="#333" stroke-width="1.1"/>
<line x1="230.00" y1="172.80" x2="396.50" y2="172.80" stroke="#727272" stroke-width="1.0" stroke-linecap="square"/>
<line x1="396.50" y1="172.80" x2="396.50" y2="218.00" stroke="#727272" stroke-width="1.0" stroke-linecap="square"/>
<line x1="230.00" y1="218.00" x2="396.50" y2="218.00" stroke="#727272" stroke-width="1.0" stroke-linecap="square"/>
<line x1="230.00" y1="172.80" x2="230.00" y2="218.00" stroke="#727272" stroke-width="1.0" stroke-linecap="square"/>
<line x1="227.40" y1="174.40" x2="230.00" y2="174.40" stroke="#333" stroke-width="1.1"/>
<line x1="227.40" y1="184.82" x2="230.00" y2="184.82" stroke="#333" stroke-width="1.1"/>
<line x1="227.40" y1="195.25" x2="230.00" y2="195.25" stroke="#333" stroke-width="1.1"/>
<line x1="227.40" y1="205.68" x2="230.00" y2="205.68" stroke="#333" stroke-width="1.1"/>
<line x1="227.40" y1="216.10" x2="230.00" y2="216.10" stroke="#333" stroke-width="1.1"/>
<line x1="256.40" y1="218.00" x2="256.40" y2="220.60" stroke="#333" stroke-width="1.1"/>
<line x1="290.90" y1="218.00" x2="290.90" y2="220.60" stroke="#333" stroke-width="1.1"/>
<line x1="326.60" y1="218.00" x2="326.60" y2="220.60" stroke="#333" stroke-width="1.1"/>
<line x1="362.10" y1="218.00" x2="362.10" y2="220.60" stroke="#333" stroke-width="1.1"/>
<line x1="403.00" y1="172.80" x2="572.00" y2="172.80" stroke="#727272" stroke-width="1.0" stroke-linecap="square"/>
<line x1="572.00" y1="172.80" x2="572.00" y2="218.00" stroke="#727272" stroke-width="1.0" stroke-linecap="square"/>
<line x1="403.00" y1="218.00" x2="572.00" y2="218.00" stroke="#727272" stroke-width="1.0" stroke-linecap="square"/>
<line x1="403.00" y1="172.80" x2="403.00" y2="218.00" stroke="#727272" stroke-width="1.0" stroke-linecap="square"/>
<line x1="400.40" y1="174.40" x2="403.00" y2="174.40" stroke="#333" stroke-width="1.1"/>
<line x1="400.40" y1="184.82" x2="403.00" y2="184.82" stroke="#333" stroke-width="1.1"/>
<line x1="400.40" y1="195.25" x2="403.00" y2="195.25" stroke="#333" stroke-width="1.1"/>
<line x1="400.40" y1="205.68" x2="403.00" y2="205.68" stroke="#333" stroke-width="1.1"/>
<line x1="400.40" y1="216.10" x2="403.00" y2="216.10" stroke="#333" stroke-width="1.1"/>
<line x1="430.10" y1="218.00" x2="430.10" y2="220.60" stroke="#333" stroke-width="1.1"/>
<line x1="465.30" y1="218.00" x2="465.30" y2="220.60" stroke="#333" stroke-width="1.1"/>
<line x1="501.10" y1="218.00" x2="501.10" y2="220.60" stroke="#333" stroke-width="1.1"/>
<line x1="537.40" y1="218.00" x2="537.40" y2="220.60" stroke="#333" stroke-width="1.1"/>
<line x1="55.00" y1="249.40" x2="222.00" y2="249.40" stroke="#727272" stroke-width="1.0" stroke-linecap="square"/>
<line x1="222.00" y1="249.40" x2="222.00" y2="294.40" stroke="#727272" stroke-width="1.0" stroke-linecap="square"/>
<line x1="55.00" y1="294.40" x2="222.00" y2="294.40" stroke="#727272" stroke-width="1.0" stroke-linecap="square"/>
<line x1="55.00" y1="249.40" x2="55.00" y2="294.40" stroke="#727272" stroke-width="1.0" stroke-linecap="square"/>
<line x1="52.40" y1="251.30" x2="55.00" y2="251.30" stroke="#333" stroke-width="1.1"/>
<line x1="52.40" y1="261.65" x2="55.00" y2="261.65" stroke="#333" stroke-width="1.1"/>
<line x1="52.40" y1="272.00" x2="55.00" y2="272.00" stroke="#333" stroke-width="1.1"/>
<line x1="52.40" y1="282.35" x2="55.00" y2="282.35" stroke="#333" stroke-width="1.1"/>
<line x1="52.40" y1="292.70" x2="55.00" y2="292.70" stroke="#333" stroke-width="1.1"/>
<line x1="82.20" y1="294.40" x2="82.20" y2="297.00" stroke="#333" stroke-width="1.1"/>
<line x1="117.00" y1="294.40" x2="117.00" y2="297.00" stroke="#333" stroke-width="1.1"/>
<line x1="152.50" y1="294.40" x2="152.50" y2="297.00" stroke="#333" stroke-width="1.1"/>
<line x1="188.20" y1="294.40" x2="188.20" y2="297.00" stroke="#333" stroke-width="1.1"/>
<line x1="230.00" y1="249.40" x2="396.50" y2="249.40" stroke="#727272" stroke-width="1.0" stroke-linecap="square"/>
<line x1="396.50" y1="249.40" x2="396.50" y2="294.40" stroke="#727272" stroke-width="1.0" stroke-linecap="square"/>
<line x1="230.00" y1="294.40" x2="396.50" y2="294.40" stroke="#727272" stroke-width="1.0" stroke-linecap="square"/>
<line x1="230.00" y1="249.40" x2="230.00" y2="294.40" stroke="#727272" stroke-width="1.0" stroke-linecap="square"/>
<line x1="227.40" y1="251.30" x2="230.00" y2="251.30" stroke="#333" stroke-width="1.1"/>
<line x1="227.40" y1="261.65" x2="230.00" y2="261.65" stroke="#333" stroke-width="1.1"/>
<line x1="227.40" y1="272.00" x2="230.00" y2="272.00" stroke="#333" stroke-width="1.1"/>
<line x1="227.40" y1="282.35" x2="230.00" y2="282.35" stroke="#333" stroke-width="1.1"/>
<line x1="227.40" y1="292.70" x2="230.00" y2="292.70" stroke="#333" stroke-width="1.1"/>
<line x1="256.40" y1="294.40" x2="256.40" y2="297.00" stroke="#333" stroke-width="1.1"/>
<line x1="290.90" y1="294.40" x2="290.90" y2="297.00" stroke="#333" stroke-width="1.1"/>
<line x1="326.60" y1="294.40" x2="326.60" y2="297.00" stroke="#333" stroke-width="1.1"/>
<line x1="362.10" y1="294.40" x2="362.10" y2="297.00" stroke="#333" stroke-width="1.1"/>
<line x1="403.00" y1="249.40" x2="572.00" y2="249.40" stroke="#727272" stroke-width="1.0" stroke-linecap="square"/>
<line x1="572.00" y1="249.40" x2="572.00" y2="294.40" stroke="#727272" stroke-width="1.0" stroke-linecap="square"/>
<line x1="403.00" y1="294.40" x2="572.00" y2="294.40" stroke="#727272" stroke-width="1.0" stroke-linecap="square"/>
<line x1="403.00" y1="249.40" x2="403.00" y2="294.40" stroke="#727272" stroke-width="1.0" stroke-linecap="square"/>
<line x1="400.40" y1="251.30" x2="403.00" y2="251.30" stroke="#333" stroke-width="1.1"/>
<line x1="400.40" y1="261.65" x2="403.00" y2="261.65" stroke="#333" stroke-width="1.1"/>
<line x1="400.40" y1="272.00" x2="403.00" y2="272.00" stroke="#333" stroke-width="1.1"/>
<line x1="400.40" y1="282.35" x2="403.00" y2="282.35" stroke="#333" stroke-width="1.1"/>
<line x1="400.40" y1="292.70" x2="403.00" y2="292.70" stroke="#333" stroke-width="1.1"/>
<line x1="430.10" y1="294.40" x2="430.10" y2="297.00" stroke="#333" stroke-width="1.1"/>
<line x1="465.30" y1="294.40" x2="465.30" y2="297.00" stroke="#333" stroke-width="1.1"/>
<line x1="501.10" y1="294.40" x2="501.10" y2="297.00" stroke="#333" stroke-width="1.1"/>
<line x1="537.40" y1="294.40" x2="537.40" y2="297.00" stroke="#333" stroke-width="1.1"/>
<line x1="55.00" y1="325.90" x2="222.00" y2="325.90" stroke="#727272" stroke-width="1.0" stroke-linecap="square"/>
<line x1="222.00" y1="325.90" x2="222.00" y2="371.30" stroke="#727272" stroke-width="1.0" stroke-linecap="square"/>
<line x1="55.00" y1="371.30" x2="222.00" y2="371.30" stroke="#262626" stroke-width="1.0" stroke-linecap="square"/>
<line x1="55.00" y1="325.90" x2="55.00" y2="371.30" stroke="#262626" stroke-width="1.0" stroke-linecap="square"/>
<line x1="52.40" y1="327.80" x2="55.00" y2="327.80" stroke="#333" stroke-width="1.1"/>
<line x1="52.40" y1="338.10" x2="55.00" y2="338.10" stroke="#333" stroke-width="1.1"/>
<line x1="52.40" y1="348.40" x2="55.00" y2="348.40" stroke="#333" stroke-width="1.1"/>
<line x1="52.40" y1="358.70" x2="55.00" y2="358.70" stroke="#333" stroke-width="1.1"/>
<line x1="52.40" y1="369.00" x2="55.00" y2="369.00" stroke="#333" stroke-width="1.1"/>
<line x1="82.20" y1="371.30" x2="82.20" y2="373.90" stroke="#333" stroke-width="1.1"/>
<line x1="117.00" y1="371.30" x2="117.00" y2="373.90" stroke="#333" stroke-width="1.1"/>
<line x1="152.50" y1="371.30" x2="152.50" y2="373.90" stroke="#333" stroke-width="1.1"/>
<line x1="188.20" y1="371.30" x2="188.20" y2="373.90" stroke="#333" stroke-width="1.1"/>
<line x1="230.00" y1="325.90" x2="396.50" y2="325.90" stroke="#727272" stroke-width="1.0" stroke-linecap="square"/>
<line x1="396.50" y1="325.90" x2="396.50" y2="371.30" stroke="#727272" stroke-width="1.0" stroke-linecap="square"/>
<line x1="230.00" y1="371.30" x2="396.50" y2="371.30" stroke="#262626" stroke-width="1.0" stroke-linecap="square"/>
<line x1="230.00" y1="325.90" x2="230.00" y2="371.30" stroke="#262626" stroke-width="1.0" stroke-linecap="square"/>
<line x1="227.40" y1="327.80" x2="230.00" y2="327.80" stroke="#333" stroke-width="1.1"/>
<line x1="227.40" y1="338.10" x2="230.00" y2="338.10" stroke="#333" stroke-width="1.1"/>
<line x1="227.40" y1="348.40" x2="230.00" y2="348.40" stroke="#333" stroke-width="1.1"/>
<line x1="227.40" y1="358.70" x2="230.00" y2="358.70" stroke="#333" stroke-width="1.1"/>
<line x1="227.40" y1="369.00" x2="230.00" y2="369.00" stroke="#333" stroke-width="1.1"/>
<line x1="256.40" y1="371.30" x2="256.40" y2="373.90" stroke="#333" stroke-width="1.1"/>
<line x1="290.90" y1="371.30" x2="290.90" y2="373.90" stroke="#333" stroke-width="1.1"/>
<line x1="326.60" y1="371.30" x2="326.60" y2="373.90" stroke="#333" stroke-width="1.1"/>
<line x1="362.10" y1="371.30" x2="362.10" y2="373.90" stroke="#333" stroke-width="1.1"/>
<line x1="403.00" y1="325.90" x2="572.00" y2="325.90" stroke="#727272" stroke-width="1.0" stroke-linecap="square"/>
<line x1="572.00" y1="325.90" x2="572.00" y2="371.30" stroke="#727272" stroke-width="1.0" stroke-linecap="square"/>
<line x1="403.00" y1="371.30" x2="572.00" y2="371.30" stroke="#262626" stroke-width="1.0" stroke-linecap="square"/>
<line x1="403.00" y1="325.90" x2="403.00" y2="371.30" stroke="#262626" stroke-width="1.0" stroke-linecap="square"/>
<line x1="400.40" y1="327.80" x2="403.00" y2="327.80" stroke="#333" stroke-width="1.1"/>
<line x1="400.40" y1="338.10" x2="403.00" y2="338.10" stroke="#333" stroke-width="1.1"/>
<line x1="400.40" y1="348.40" x2="403.00" y2="348.40" stroke="#333" stroke-width="1.1"/>
<line x1="400.40" y1="358.70" x2="403.00" y2="358.70" stroke="#333" stroke-width="1.1"/>
<line x1="400.40" y1="369.00" x2="403.00" y2="369.00" stroke="#333" stroke-width="1.1"/>
<line x1="430.10" y1="371.30" x2="430.10" y2="373.90" stroke="#333" stroke-width="1.1"/>
<line x1="465.30" y1="371.30" x2="465.30" y2="373.90" stroke="#333" stroke-width="1.1"/>
<line x1="501.10" y1="371.30" x2="501.10" y2="373.90" stroke="#333" stroke-width="1.1"/>
<line x1="537.40" y1="371.30" x2="537.40" y2="373.90" stroke="#333" stroke-width="1.1"/>
<text transform="translate(50.8,25.20) scale(0.82,1)" text-anchor="end" class="tl">10.0</text>
<text transform="translate(50.8,35.52) scale(0.82,1)" text-anchor="end" class="tl">7.5</text>
<text transform="translate(50.8,45.85) scale(0.82,1)" text-anchor="end" class="tl">5.0</text>
<text transform="translate(50.8,56.17) scale(0.82,1)" text-anchor="end" class="tl">2.5</text>
<text transform="translate(50.8,66.50) scale(0.82,1)" text-anchor="end" class="tl">0.0</text>
<text transform="translate(50.8,100.70) scale(0.82,1)" text-anchor="end" class="tl">50000</text>
<text transform="translate(50.8,109.00) scale(0.82,1)" text-anchor="end" class="tl">40000</text>
<text transform="translate(50.8,117.30) scale(0.82,1)" text-anchor="end" class="tl">30000</text>
<text transform="translate(50.8,125.60) scale(0.82,1)" text-anchor="end" class="tl">20000</text>
<text transform="translate(50.8,133.90) scale(0.82,1)" text-anchor="end" class="tl">10000</text>
<text transform="translate(50.8,142.20) scale(0.82,1)" text-anchor="end" class="tl">0</text>
<text transform="translate(50.8,177.90) scale(0.82,1)" text-anchor="end" class="tl">10.0</text>
<text transform="translate(50.8,188.32) scale(0.82,1)" text-anchor="end" class="tl">7.5</text>
<text transform="translate(50.8,198.75) scale(0.82,1)" text-anchor="end" class="tl">5.0</text>
<text transform="translate(50.8,209.18) scale(0.82,1)" text-anchor="end" class="tl">2.5</text>
<text transform="translate(50.8,219.60) scale(0.82,1)" text-anchor="end" class="tl">0.0</text>
<text transform="translate(50.8,254.40) scale(0.82,1)" text-anchor="end" class="tl">1.00</text>
<text transform="translate(50.8,264.75) scale(0.82,1)" text-anchor="end" class="tl">0.75</text>
<text transform="translate(50.8,275.10) scale(0.82,1)" text-anchor="end" class="tl">0.50</text>
<text transform="translate(50.8,285.45) scale(0.82,1)" text-anchor="end" class="tl">0.25</text>
<text transform="translate(50.8,295.80) scale(0.82,1)" text-anchor="end" class="tl">0.00</text>
<text transform="translate(51.3,330.90) scale(0.975,1)" text-anchor="end" class="tl" style="font-size:7.5px">8e+10</text>
<text transform="translate(51.3,341.20) scale(0.975,1)" text-anchor="end" class="tl" style="font-size:7.5px">6e+10</text>
<text transform="translate(51.3,351.50) scale(0.975,1)" text-anchor="end" class="tl" style="font-size:7.5px">4e+10</text>
<text transform="translate(51.3,361.80) scale(0.975,1)" text-anchor="end" class="tl" style="font-size:7.5px">2e+10</text>
<text transform="translate(51.3,372.10) scale(0.975,1)" text-anchor="end" class="tl" style="font-size:7.5px">0e+00</text>
<text transform="translate(82.20,380.8) scale(0.975,1)" text-anchor="middle" class="tl" style="font-size:7.5px">Jun</text>
<text transform="translate(117.00,380.8) scale(0.975,1)" text-anchor="middle" class="tl" style="font-size:7.5px">Jul</text>
<text transform="translate(152.50,380.8) scale(0.975,1)" text-anchor="middle" class="tl" style="font-size:7.5px">Aug</text>
<text transform="translate(188.20,380.8) scale(0.975,1)" text-anchor="middle" class="tl" style="font-size:7.5px">Sep</text>
<text transform="translate(256.40,380.8) scale(0.975,1)" text-anchor="middle" class="tl" style="font-size:7.5px">Jun</text>
<text transform="translate(290.90,380.8) scale(0.975,1)" text-anchor="middle" class="tl" style="font-size:7.5px">Jul</text>
<text transform="translate(326.60,380.8) scale(0.975,1)" text-anchor="middle" class="tl" style="font-size:7.5px">Aug</text>
<text transform="translate(362.10,380.8) scale(0.975,1)" text-anchor="middle" class="tl" style="font-size:7.5px">Sep</text>
<text transform="translate(430.10,380.8) scale(0.975,1)" text-anchor="middle" class="tl" style="font-size:7.5px">Jun</text>
<text transform="translate(465.30,380.8) scale(0.975,1)" text-anchor="middle" class="tl" style="font-size:7.5px">Jul</text>
<text transform="translate(501.10,380.8) scale(0.975,1)" text-anchor="middle" class="tl" style="font-size:7.5px">Aug</text>
<text transform="translate(537.40,380.8) scale(0.975,1)" text-anchor="middle" class="tl" style="font-size:7.5px">Sep</text>
<text transform="translate(136.5,12.9) scale(0.94,1)" text-anchor="middle" class="ti">2017</text>
<text transform="translate(309.0,12.9) scale(0.94,1)" text-anchor="middle" class="ti">2018</text>
<text transform="translate(482.6,12.9) scale(0.94,1)" text-anchor="middle" class="ti">2019</text>
<text transform="translate(11.8,43.95) rotate(-90) scale(0.897,1)" text-anchor="middle" class="yt" style="font-size:11.2px">A. Rainfall</text>
<text transform="translate(23.5,43.6) rotate(-90) scale(0.86,1)" text-anchor="middle" class="yt" style="font-size:11.2px">(mm)</text>
<text transform="translate(11.8,120.1) rotate(-90) scale(0.9,1)" text-anchor="middle" class="yt" style="font-size:11.2px">B. Discharge</text>
<text transform="translate(23.5,120.3) rotate(-90) scale(0.89,1)" text-anchor="middle" class="yt" style="font-size:11.2px">(L/s)</text>
<text transform="translate(13.0,195.6) rotate(-90) scale(0.907,1)" text-anchor="middle" class="yt" style="font-size:10.8px">C. DOC</text>
<text transform="translate(24.9,195.75) rotate(-90) scale(0.93,1)" text-anchor="middle" class="yt" style="font-size:10.8px">(mg/L)</text>
<text transform="translate(13.4,269.9) rotate(-90)" text-anchor="middle" class="yt" style="font-size:10px">D. NO<tspan dy="2.2" font-size="7px">3</tspan><tspan dx="-0.6" dy="-5.6" font-size="7px">-</tspan></text>
<text transform="translate(24.9,270.3) rotate(-90) scale(0.86,1)" text-anchor="middle" class="yt" style="font-size:11.2px">(mg/L)</text>
<text transform="translate(13.2,339.9) rotate(-90) scale(0.89,1)" text-anchor="middle" class="yt" style="font-size:11.2px">E. Cumulative</text>
<text transform="translate(25.3,338.1) rotate(-90) scale(0.89,1)" text-anchor="middle" class="yt" style="font-size:11.2px">Q (L)</text>
</svg>
</body></html>
